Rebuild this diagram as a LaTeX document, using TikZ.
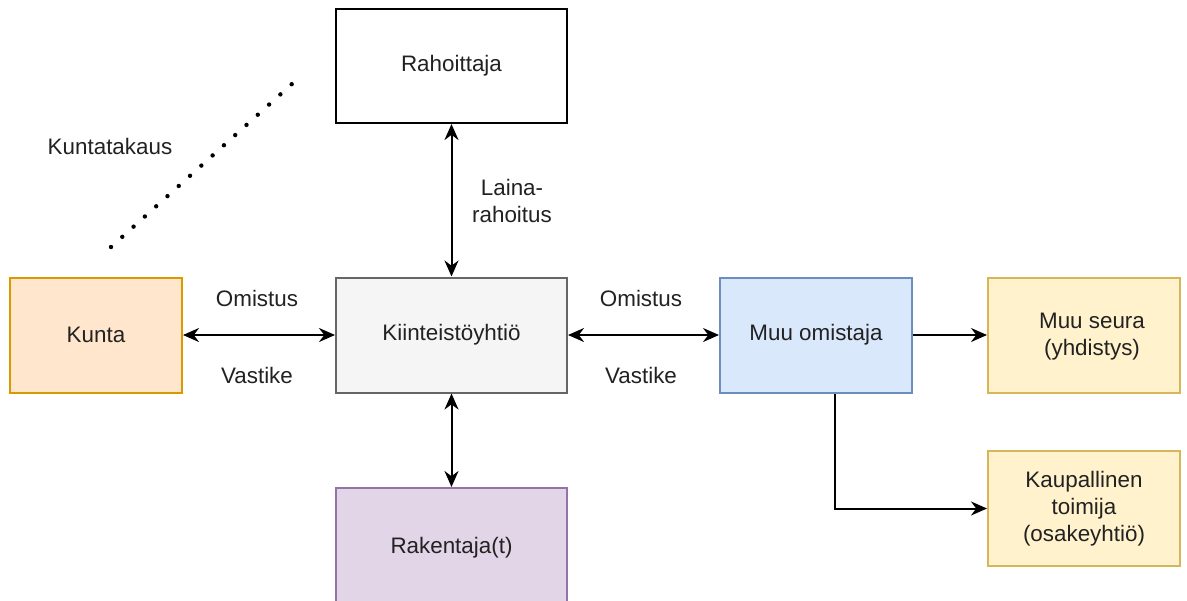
\documentclass[tikz,border=0pt]{standalone}
\usepackage{fontspec}
\setmainfont{Liberation Sans}
\usetikzlibrary{arrows.meta,calc}
\definecolor{txt}{HTML}{222222}
\definecolor{kuntaF}{HTML}{FFE6CC}\definecolor{kuntaD}{HTML}{D79B00}
\definecolor{grayF}{HTML}{F5F5F5}\definecolor{grayD}{HTML}{666666}
\definecolor{blueF}{HTML}{DAE8FC}\definecolor{blueD}{HTML}{6C8EBF}
\definecolor{yelF}{HTML}{FFF2CC}\definecolor{yelD}{HTML}{D6B656}
\definecolor{purF}{HTML}{E1D5E7}\definecolor{purD}{HTML}{9673A6}
\tikzset{
  box/.style={draw, line width=1pt, inner sep=0pt, align=center, text=txt,
    font=\fontsize{11.2}{13.5}\selectfont},
  lbl/.style={text=txt, align=center, font=\fontsize{11.2}{13.5}\selectfont, inner sep=0pt},
  arr/.style={line width=1pt, draw=black, -{Stealth[length=8pt,width=7pt]}},
  darr/.style={line width=1pt, draw=black, {Stealth[length=8pt,width=7pt]}-{Stealth[length=8pt,width=7pt]}},
}
\begin{document}
\begin{tikzpicture}[x=0.5pt,y=-0.5pt]
\clip (0,0) rectangle (1187,600);
\fill[white] (0,0) rectangle (1187,600);
\node[box, fill=white, draw=black, minimum width=115.5pt, minimum height=57pt] (rah) at (451.5,66) {Rahoittaja};
\node[box, fill=grayF, draw=grayD, minimum width=115.5pt, minimum height=57.5pt] (kiin) at (451.5,335) {Kiinteistöyhtiö};
\node[box, fill=kuntaF, draw=kuntaD, minimum width=86pt, minimum height=57.5pt] (kunta) at (96,335) {Kunta};
\node[box, fill=blueF, draw=blueD, minimum width=96pt, minimum height=57.5pt] (muu) at (816,335) {Muu omistaja};
\node[box, fill=yelF, draw=yelD, minimum width=96pt, minimum height=57.5pt] (seura) at (1084,335) {};
\node[lbl] (seuraT) at (1092,337) {Muu seura\\(yhdistys)};
\node[box, fill=yelF, draw=yelD, minimum width=96pt, minimum height=57.5pt] (kaup) at (1084,508.5) {Kaupallinen\\toimija\\(osakeyhtiö)};
\node[box, fill=purF, draw=purD, minimum width=115.5pt, minimum height=60pt] (rak) at (451.5,548) {};
\node[lbl] (rakT) at (451.5,548) {Rakentaja(t)};

\draw[darr] (rah.south) -- (kiin.north);
\draw[darr] (kiin.south) -- (rak.north);
\draw[darr] (kunta.east) -- (kiin.west);
\draw[darr] (kiin.east) -- (muu.west);
\draw[arr] (muu.east) -- (seura.west);
\draw[arr] ([xshift=9.5pt]muu.south) |- (kaup.west);

\node[lbl] (om1) at (257,298) {Omistus};
\node[lbl] (va1) at (257,375) {Vastike};
\node[lbl] (om2) at (641,298) {Omistus};
\node[lbl] (va2) at (641,375) {Vastike};
\node[lbl] (laina) at (512,201) {Laina-\\rahoitus};
\node[lbl] (kt) at (110,146) {Kuntatakaus};

\coordinate (d1) at (111,247);
\coordinate (d2) at (293,83);
\draw[line width=2.2pt, line cap=round, dash pattern=on 0pt off 7.6pt] (d1) -- (d2);
\end{tikzpicture}
\end{document}
